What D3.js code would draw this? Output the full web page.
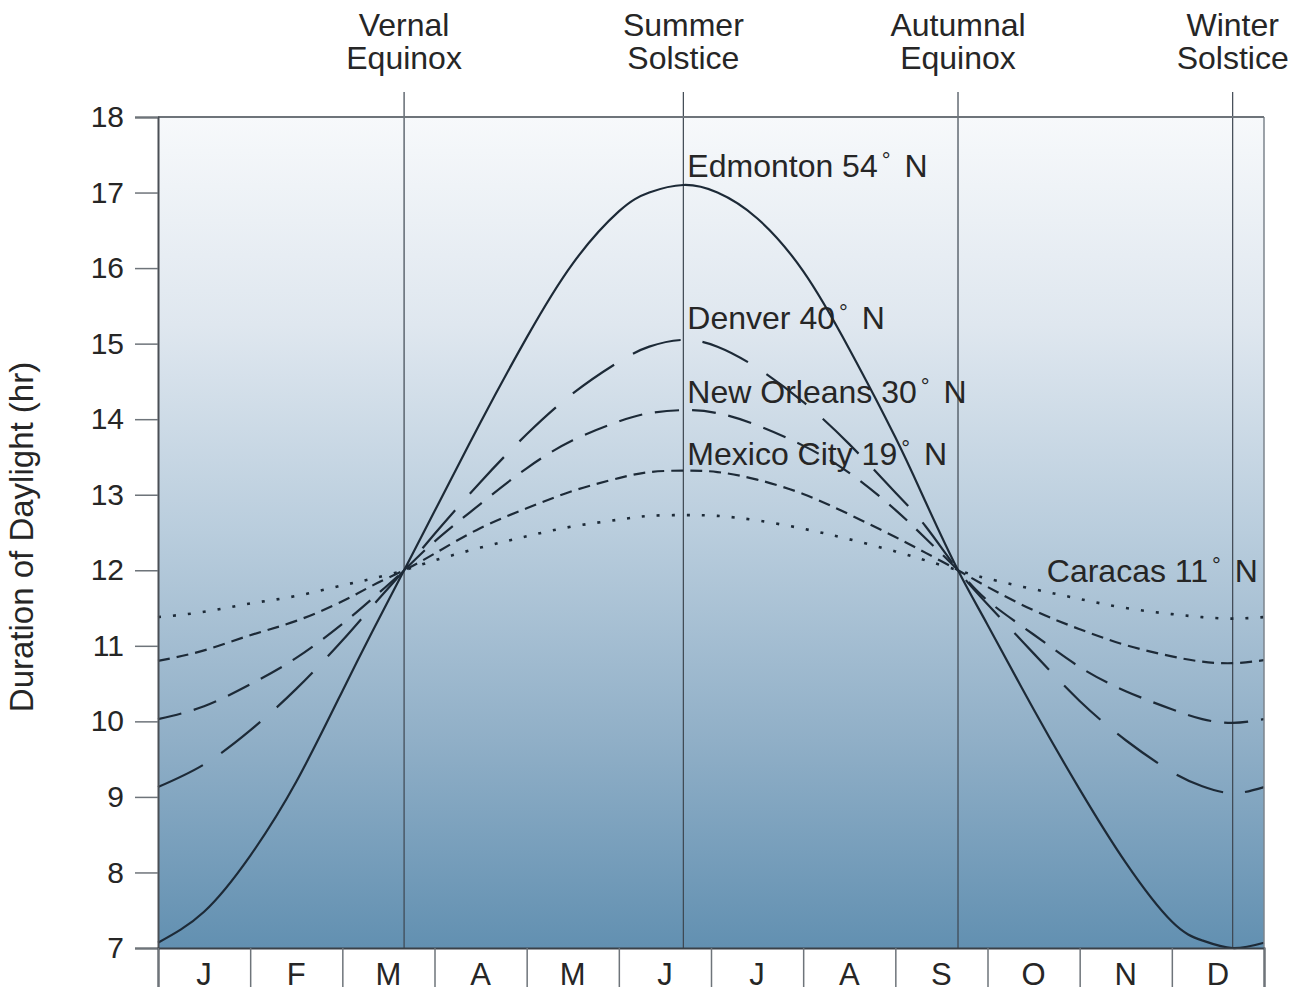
<!DOCTYPE html>
<html>
<head>
<meta charset="utf-8">
<script src="https://cdn.jsdelivr.net/npm/d3@7"></script>
<style>
  html, body { margin: 0; padding: 0; background: #ffffff; }
  svg { display: block; }
  text { font-family: "Liberation Sans", Arial, Helvetica, sans-serif; fill: #262626; }
</style>
</head>
<body>
<svg id="chart" width="1294" height="992"></svg>
<script>
// ---------------- DATA ----------------
const monthLabels = ["J","F","M","A","M","J","J","A","S","O","N","D"];
const yTicks = [7,8,9,10,11,12,13,14,15,16,17,18];

// position along the year, in months from Jan 1
const monthPos = [0,0.5,1,1.5,2,2.33,2.67,3,3.5,4,4.5,5,5.33,5.70,6.07,6.5,7,7.5,8,8.33,8.68,9,9.5,10,10.5,11,11.33,11.66,12];

const edmonton   = [7.07,7.48,8.22,9.2,10.4,11.2,12.0,12.78,13.96,15.08,16.06,16.75,17.0,17.1,17.0,16.66,15.96,14.93,13.76,12.9,12.0,11.28,10.16,9.1,8.13,7.35,7.1,7.0,7.07];
const denver     = [9.13,9.43,9.88,10.43,11.07,11.53,12.0,12.48,13.17,13.8,14.34,14.76,14.96,15.05,14.96,14.68,14.23,13.67,13.03,12.58,12.0,11.55,10.9,10.27,9.75,9.33,9.14,9.05,9.13];
const newOrleans = [10.03,10.2,10.49,10.84,11.29,11.63,12.0,12.38,12.88,13.35,13.72,13.97,14.08,14.12,14.08,13.92,13.65,13.29,12.8,12.42,12.0,11.6,11.15,10.72,10.4,10.16,10.03,9.98,10.03];
const mexicoCity = [10.8,10.94,11.14,11.33,11.59,11.8,12.0,12.22,12.56,12.82,13.05,13.22,13.3,13.32,13.3,13.2,13.01,12.74,12.44,12.23,12.0,11.78,11.47,11.22,11.01,10.86,10.79,10.77,10.81];
const caracas    = [11.38,11.45,11.56,11.66,11.8,11.89,12.0,12.13,12.3,12.45,12.58,12.67,12.72,12.73,12.72,12.66,12.55,12.41,12.25,12.13,12.0,11.89,11.75,11.62,11.5,11.42,11.38,11.36,11.38];

const seriesNames = ["Edmonton","Denver","New Orleans","Mexico City","Caracas"];
const seriesLat   = [54,40,30,19,11];

const eventNames  = [["Vernal","Equinox"],["Summer","Solstice"],["Autumnal","Equinox"],["Winter","Solstice"]];
const eventMonths = [2.67,5.70,8.68,11.66];

// ---------------- LAYOUT ----------------
const L = 158, R = 1264, T = 117, B = 948;
const svg = d3.select("#chart");
const x = d3.scaleLinear().domain([0,12]).range([L,R]);
const y = d3.scaleLinear().domain([7,18]).range([B,T]);

const seriesValues = [edmonton, denver, newOrleans, mexicoCity, caracas];
const dashes = [null, "50 22", "24 13", "12 7", "3 12"];
// label anchors (month position, hours)
const labelAnchor = [[5.70,17.2],[5.70,15.2],[5.70,14.22],[5.70,13.4],[9.6,11.84]];

// gradient background
const defs = svg.append("defs");
const grad = defs.append("linearGradient").attr("id","bg")
  .attr("x1",0).attr("y1",0).attr("x2",0).attr("y2",1);
[[0,"#f7f9fb"],[0.25,"#dfe7ef"],[0.5,"#b9cddd"],[0.75,"#90afc7"],[1,"#6290b1"]]
  .forEach(s => grad.append("stop").attr("offset",s[0]).attr("stop-color",s[1]));

svg.append("rect").attr("x",L).attr("y",T).attr("width",R-L).attr("height",B-T)
  .attr("fill","url(#bg)");

// event lines
eventMonths.forEach((m,i) => {
  svg.append("line").attr("x1",x(m)).attr("x2",x(m)).attr("y1",92).attr("y2",B)
    .attr("stroke","#3d4650").attr("stroke-width",1.2);
  const t = svg.append("text").attr("text-anchor","middle").style("font-size","32px");
  t.append("tspan").attr("x",x(m)).attr("y",36).text(eventNames[i][0]);
  t.append("tspan").attr("x",x(m)).attr("y",69).text(eventNames[i][1]);
});

// curves
const line = d3.line().x((d,i)=>x(monthPos[i])).y(d=>y(d)).curve(d3.curveNatural);
seriesValues.forEach((vals,k) => {
  const p = svg.append("path").attr("d", line(vals)).attr("fill","none")
    .attr("stroke","#1d2a37").attr("stroke-width", k===4 ? 2.6 : 2.2);
  if (dashes[k]) p.attr("stroke-dasharray", dashes[k]);
});

// frame
svg.append("line").attr("x1",R).attr("x2",R).attr("y1",T).attr("y2",B).attr("stroke","#7d858c").attr("stroke-width",1.5);
svg.append("line").attr("x1",L).attr("x2",R).attr("y1",T).attr("y2",T).attr("stroke","#6e747a").attr("stroke-width",2);

// y axis
const yAxis = d3.axisLeft(y).tickValues(yTicks).tickSize(23).tickPadding(11).tickFormat(d3.format("d"));
const ga = svg.append("g").attr("transform",`translate(${L},0)`).call(yAxis);
ga.select(".domain").attr("stroke","#4a4f55").attr("stroke-width",2);
ga.selectAll(".tick line").attr("stroke","#6e747a").attr("stroke-width",1.5);
ga.selectAll(".tick text").style("font-size","30px").style("font-family","'Liberation Sans', Arial, sans-serif").attr("fill","#262626");

// x axis (month boundaries)
const xAxis = d3.axisBottom(x).tickValues(d3.range(0,13)).tickSize(39).tickFormat("");
const gx = svg.append("g").attr("transform",`translate(0,${B})`).call(xAxis);
gx.select(".domain").attr("stroke","#3a4148").attr("stroke-width",2);
gx.selectAll(".tick line").attr("stroke","#6e747a").attr("stroke-width",1.5);
svg.selectAll(".mlab").data(monthLabels).enter().append("text")
  .attr("x",(d,i)=>x(i+0.5)).attr("y",985).attr("text-anchor","middle")
  .style("font-size","31px").text(d=>d);

// y title
svg.append("text").attr("transform","translate(33,537) rotate(-90)")
  .attr("text-anchor","middle").style("font-size","33px").text("Duration of Daylight (hr)");

// series labels
seriesNames.forEach((n,k) => {
  const t = svg.append("text").attr("x",x(labelAnchor[k][0])+4).attr("y",y(labelAnchor[k][1]))
    .style("font-size","32px");
  t.append("tspan").text(n + " " + seriesLat[k]);
  t.append("tspan").attr("dx",4).attr("dy",-9).style("font-size","22px").text("°");
  t.append("tspan").attr("dx",5).attr("dy",9).text(" N");
});
</script>
</body>
</html>
